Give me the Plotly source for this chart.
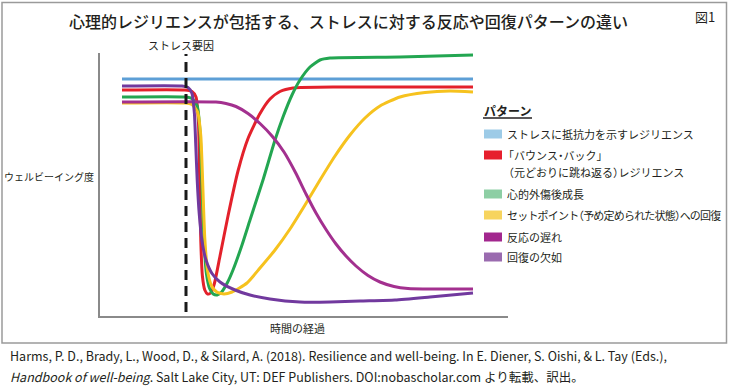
import plotly.graph_objects as go

# ---------------- data (time vs. well-being level, arbitrary units) ----------------
stress_time = 21.5
stress_label = "ストレス要因"

resist_t = [5.5, 93.25]
resist_v = [94.8, 94.8]

bounce_t = [5.5, 21.25, 23.0, 24.0, 24.6, 24.9, 25.2, 25.6, 26.2, 26.9, 27.7, 28.6, 30.0,
            32.0, 34.5, 37.0, 40.0, 42.5, 45.0, 48.25, 60.0, 93.25]
bounce_v = [90.4, 90.4, 89.8, 87.6, 78.0, 56.0, 30.0, 16.0, 10.4, 8.8, 9.2, 13.0, 24.0,
            40.0, 58.0, 71.0, 81.0, 86.8, 89.8, 91.2, 91.6, 91.6]

growth_t = [5.5, 21.25, 23.0, 24.3, 25.0, 25.5, 26.0, 26.6, 27.4, 28.3, 29.3, 30.4, 31.8,
            33.25, 35.5, 37.5, 40.75, 43.75, 45.75, 48.0, 50.0, 52.5, 55.0, 57.5, 75.0, 93.25]
growth_v = [87.6, 87.6, 87.0, 84.0, 74.0, 52.0, 30.0, 17.0, 11.0, 8.8, 8.4, 9.6, 13.2,
            18.4, 28.4, 38.4, 54.4, 70.4, 79.6, 88.4, 94.4, 99.6, 102.4, 103.2, 103.6, 104.4]

setpoint_t = [5.5, 21.25, 23.0, 24.4, 25.2, 25.7, 26.2, 26.9, 27.9, 29.2, 31.0, 33.0,
              36.75, 40.0, 43.75, 47.5, 51.25, 55.0, 58.75, 62.5, 66.25, 70.0, 75.0, 81.25,
              87.5, 93.25]
setpoint_v = [85.2, 85.2, 84.6, 81.6, 72.0, 52.0, 31.0, 18.0, 12.0, 9.6, 8.8, 9.6,
              13.2, 19.2, 26.4, 34.8, 44.4, 54.4, 64.0, 72.4, 79.2, 84.0, 87.6, 89.4,
              90.0, 89.6]

delayed_t = [5.5, 29.0, 31.5, 34.0, 37.0, 40.0, 43.0, 46.0, 49.0, 51.5, 54.0, 56.5, 59.0,
             61.5, 64.0, 67.0, 70.0, 73.5, 77.0, 83.25, 93.25]
delayed_v = [85.6, 85.6, 85.0, 83.8, 81.0, 77.0, 72.0, 65.6, 57.0, 48.8, 41.2, 34.6, 28.8,
             24.0, 20.0, 16.2, 13.6, 11.8, 11.0, 10.8, 10.8]

lack_t = [5.5, 20.5, 22.0, 23.0, 23.6, 23.95, 24.3, 24.8, 25.5, 26.5, 28.0, 30.0,
          33.75, 37.5, 42.5, 50.0, 57.5, 65.0, 73.75, 82.5, 93.25]
lack_v = [92.0, 92.0, 91.4, 89.0, 81.0, 68.0, 54.4, 41.0, 30.0, 22.4, 17.0, 13.6,
          10.4, 8.4, 6.8, 5.6, 5.6, 6.0, 6.4, 7.6, 9.2]

series_t = [resist_t, bounce_t, growth_t, setpoint_t, delayed_t, lack_t]
series_v = [resist_v, bounce_v, growth_v, setpoint_v, delayed_v, lack_v]

legend_title = "パターン"
legend_labels = [
    ["ストレスに抵抗力を示すレジリエンス"],
    ["「バウンス・バック」", "（元どおりに跳ね返る）レジリエンス"],
    ["心的外傷後成長"],
    ["セットポイント（予め定められた状態）への回復"],
    ["反応の遅れ"],
    ["回復の欠如"],
]
line_colors = ["#5D9FD6", "#E3212B", "#23A651", "#F6C21E", "#A3308F", "#71399E"]
swatch_colors = ["#9DCBE7", "#E61F2D", "#8DCEA4", "#F7D45E", "#A2278E", "#9A6BAF"]

title_text = "心理的レジリエンスが包括する、ストレスに対する反応や回復パターンの違い"
fig_label = "図1"
y_label = "ウェルビーイング度"
x_label = "時間の経過"
citation = ["Harms, P. D., Brady, L., Wood, D., & Silard, A. (2018). Resilience and well-being. "
            "In E. Diener, S. Oishi, & L. Tay (Eds.),",
            "<i>Handbook of well-being</i>. Salt Lake City, UT: DEF Publishers. "
            "DOI:nobascholar.com より転載、訳出。"]

# ---------------- figure ----------------
W, H = 730, 389
JP = "Noto Sans CJK JP"


def px(x):
    return x / W


def py(y):
    return 1 - y / H


def tighten(s, size, track=0.0):
    """Half-width spacing for Japanese brackets (約物半角), as in the original typesetting."""
    h = size / 2
    out = []
    for i, ch in enumerate(s):
        nxt = s[i + 1] if i + 1 < len(s) else ""
        ls = track
        if nxt and nxt in "（「":
            ls -= h
        if ch in "）」":
            ls -= h
        if nxt == "・":
            ls -= h / 2
        if ch == "・":
            ls -= h / 2
        if ls:
            out.append("<span style='letter-spacing:%.2fpx'>%s</span>" % (ls, ch))
        else:
            out.append(ch)
    return "".join(out)


fig = go.Figure()

for t, v, c in zip(series_t, series_v, line_colors):
    fig.add_trace(go.Scatter(x=t, y=v, mode="lines",
                             line=dict(color=c, width=3, shape="spline", smoothing=0.55),
                             hoverinfo="skip", showlegend=False))

# stressor dashed line
fig.add_trace(go.Scatter(x=[stress_time, stress_time], y=[1.6, 104.8], mode="lines",
                         line=dict(color="#1a1a1a", width=3, dash="10px,6px"),
                         hoverinfo="skip", showlegend=False))

annotations = []
shapes = []

# outer frame
shapes.append(dict(type="rect", xref="paper", yref="paper",
                   x0=px(2), x1=px(726.5), y0=py(343), y1=py(2.5),
                   line=dict(color="#9a9a9a", width=1.5)))

annotations.append(dict(text=title_text, x=px(348), y=py(21), xref="paper", yref="paper",
                        showarrow=False, xanchor="center", yanchor="middle",
                        font=dict(family=JP, size=16, color="#231f20", weight=500)))
annotations.append(dict(text=fig_label, x=px(717), y=py(17), xref="paper", yref="paper",
                        showarrow=False, xanchor="right", yanchor="middle",
                        font=dict(family=JP, size=13, color="#231f20")))
annotations.append(dict(text=stress_label, x=stress_time, y=py(45), xref="x", yref="paper",
                        showarrow=False, xanchor="center", yanchor="middle", xshift=-5,
                        font=dict(family=JP, size=11, color="#231f20")))
annotations.append(dict(text=y_label, x=px(96), y=py(177), xref="paper", yref="paper",
                        showarrow=False, xanchor="right", yanchor="middle",
                        font=dict(family=JP, size=10, color="#231f20")))
annotations.append(dict(text=x_label, x=px(297), y=py(328), xref="paper", yref="paper",
                        showarrow=False, xanchor="center", yanchor="middle",
                        font=dict(family=JP, size=11, color="#231f20")))

# legend (manual)
annotations.append(dict(text="<b>" + legend_title + "</b>", x=px(482), y=py(110),
                        xref="paper", yref="paper", showarrow=False,
                        xanchor="left", yanchor="middle",
                        font=dict(family=JP, size=12, color="#231f20")))
shapes.append(dict(type="line", xref="paper", yref="paper", x0=px(483), x1=px(532),
                   y0=py(118), y1=py(118), line=dict(color="#231f20", width=1.3)))
item_y = [134, 155, 194, 215, 237, 257]
LEG_SIZE = 11
for lab, col, yy in zip(legend_labels, swatch_colors, item_y):
    shapes.append(dict(type="rect", xref="paper", yref="paper", x0=px(484), x1=px(502),
                       y0=py(yy + 4.5), y1=py(yy - 4.5), fillcolor=col, line=dict(width=0)))
    for k, line in enumerate(lab):
        track = -0.8 if len(line) > 20 else 0.0
        lead = -LEG_SIZE / 2 + 1 if line[0] in "（「" else 0
        annotations.append(dict(text=tighten(line, LEG_SIZE, track), x=px(505),
                                y=py(yy + 17 * k), xref="paper", yref="paper",
                                showarrow=False, xanchor="left", yanchor="middle",
                                xshift=lead,
                                font=dict(family=JP, size=LEG_SIZE, color="#231f20")))

# citation
for k, line in enumerate(citation):
    annotations.append(dict(text=line, x=px(8), y=py(355 + 21 * k), xref="paper", yref="paper",
                            showarrow=False, xanchor="left", yanchor="middle",
                            font=dict(family="Liberation Sans Narrow, " + JP, size=12.5,
                                      color="#231f20")))

fig.update_layout(
    width=W, height=H,
    margin=dict(l=0, r=0, t=0, b=0),
    paper_bgcolor="white", plot_bgcolor="white",
    xaxis=dict(domain=[px(100), px(508)], range=[0, 102], showgrid=False, zeroline=False,
               showticklabels=False, ticks="", showline=True, linecolor="#8a8a8a", linewidth=2),
    yaxis=dict(domain=[py(316), py(53)], range=[0, 105.2], showgrid=False, zeroline=False,
               showticklabels=False, ticks="", showline=True, linecolor="#8a8a8a", linewidth=2),
    annotations=annotations, shapes=shapes,
)

fig.write_html("out.html", config={"displayModeBar": False, "staticPlot": True},
               post_script="document.body.style.margin='0';document.body.style.overflow='hidden';")
